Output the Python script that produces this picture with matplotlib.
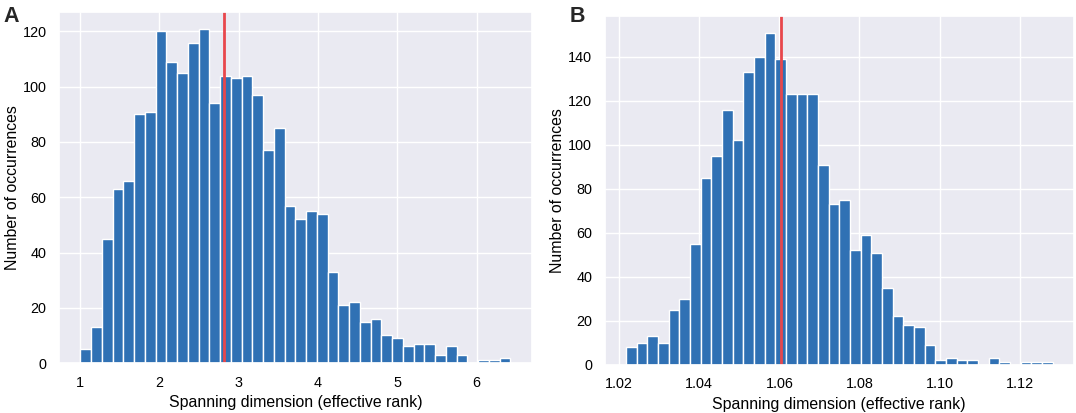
import numpy as np
import matplotlib
matplotlib.use("Agg")
import matplotlib.pyplot as plt
import seaborn as sns

# histogram counts (40 bins each)
counts_a = [5, 13, 45, 63, 66, 90, 91, 120, 109, 105, 116, 121, 94, 104, 103, 104,
            97, 77, 85, 57, 52, 55, 54, 33, 21, 22, 15, 16, 10, 9, 6, 7, 7, 3, 6, 3,
            0, 1, 1, 2]
counts_b = [8, 10, 13, 10, 25, 30, 55, 85, 95, 116, 102, 133, 140, 151, 139, 123,
            123, 123, 91, 73, 75, 52, 59, 51, 35, 22, 18, 17, 9, 2, 3, 2, 2, 0, 3, 1,
            0, 1, 1, 1]
range_a = (1.008, 6.426)     # min / max of the data, panel A
range_b = (1.0217, 1.1282)   # min / max of the data, panel B
mean_a = 2.812
mean_b = 1.0605
xticks_a = [1, 2, 3, 4, 5, 6]
xticks_b = [1.02, 1.04, 1.06, 1.08, 1.10, 1.12]

BAR_COLOR = "#3071b4"
LINE_COLOR = "#e8474c"

sns.set_theme(style="darkgrid")
plt.rcParams["font.family"] = ["Liberation Sans", "DejaVu Sans"]


def draw_panel(ax, counts, rng, mean, xticks, fmt):
    edges = np.linspace(rng[0], rng[1], len(counts) + 1)
    ax.bar(edges[:-1], counts, width=np.diff(edges), align="edge",
           color=BAR_COLOR, edgecolor="white", linewidth=1.0)
    ax.axvline(mean, color=LINE_COLOR, linewidth=2.0)
    ax.set_xticks(xticks)
    ax.set_xticklabels([fmt.format(t) for t in xticks])
    ax.set_xlabel("Spanning dimension (effective rank)", fontsize=11.4, labelpad=4)
    ax.set_ylabel("Number of occurrences", fontsize=11.4, labelpad=2)
    ax.tick_params(axis="both", length=0, labelsize=10.4, pad=9, colors="black")
    ax.xaxis.label.set_color("black")
    ax.yaxis.label.set_color("black")


fig = plt.figure(figsize=(10.76, 4.13), dpi=100)
ax_a = fig.add_axes([0.0548, 0.121, 0.4396, 0.850])
ax_b = fig.add_axes([0.5619, 0.117, 0.4361, 0.844])

draw_panel(ax_a, counts_a, range_a, mean_a, xticks_a, "{:g}")
draw_panel(ax_b, counts_b, range_b, mean_b, xticks_b, "{:.2f}")

fig.text(0.003, 0.985, "A", fontsize=15.5, fontweight="bold", va="top", ha="left")
fig.text(0.529, 0.985, "B", fontsize=15.5, fontweight="bold", va="top", ha="left")

fig.savefig("out.png", dpi=100)
